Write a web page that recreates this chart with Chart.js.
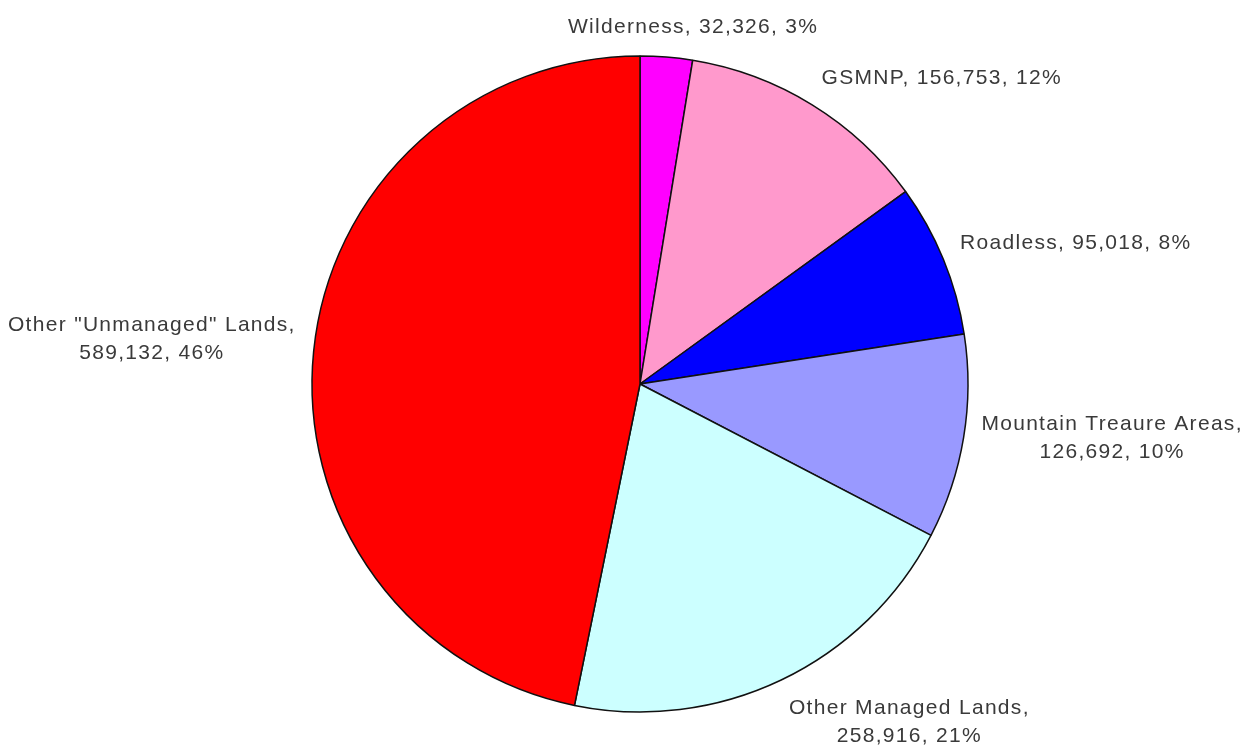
<!DOCTYPE html>
<html>
<head>
<meta charset="utf-8">
<script src="https://cdn.jsdelivr.net/npm/chart.js@4/dist/chart.umd.min.js"></script>
<style>
  html, body { margin: 0; padding: 0; background: #fff; }
  #landChart { display: block; }
</style>
</head>
<body>
<canvas id="landChart" width="1245" height="749"></canvas>
<script>
const landNames = ['Wilderness', 'GSMNP', 'Roadless', 'Mountain Treaure Areas', 'Other Managed Lands', 'Other "Unmanaged" Lands']
const acres = [32326, 156753, 95018, 126692, 258916, 589132]
const pctText = [3, 12, 8, 10, 21, 46]
const sliceColors = ['#ff00ff', '#ff99cc', '#0000ff', '#9999ff', '#ccffff', '#ff0000']

// labels sit just outside each slice, like excel's "outside end"
const outsideLabels = {
    id: 'outsideLabels',
    afterDatasetsDraw(chart) {
        const ctx = chart.ctx
        const meta = chart.getDatasetMeta(0)
        ctx.save()
        ctx.font = '21px "Liberation Sans", Arial, sans-serif'
        ctx.letterSpacing = '1.3px'
        ctx.fillStyle = '#3a3a3a'
        ctx.textAlign = 'center'
        ctx.textBaseline = 'middle'
        const lineH = 28

        meta.data.forEach((arc, i) => {
            const p = arc.getProps(['x', 'y', 'startAngle', 'endAngle', 'outerRadius'], true)
            const mid = (p.startAngle + p.endAngle) / 2
            const dx = Math.cos(mid)
            const dy = Math.sin(mid)
            const ax = p.x + (p.outerRadius + 18) * dx
            const ay = p.y + (p.outerRadius + 18) * dy

            const tail = acres[i].toLocaleString('en-US') + ', ' + pctText[i] + '%'
            const lines = landNames[i].length > 15
                ? [landNames[i] + ',', tail]
                : [landNames[i] + ', ' + tail]

            const w = Math.max(...lines.map(l => ctx.measureText(l).width))
            const h = lines.length * lineH

            // slide the block sideways so it clears the pie, then nudge up a bit on the sides
            const side = Math.max(-1, Math.min(1, dx * 2.5))
            const cx = ax + side * w / 2
            const cy = ay + dy * h / 2 - (1 - Math.abs(dy)) * 10 + 2

            lines.forEach((l, k) => {
                ctx.fillText(l, cx, cy - h / 2 + lineH / 2 + k * lineH)
            })
        })
        ctx.restore()
    }
}

const ctx = document.querySelector('#landChart').getContext('2d')

const chart = new Chart(ctx, {
    type: 'pie',
    data: {
        labels: landNames,
        datasets: [
            {
                data: acres,
                backgroundColor: sliceColors,
                borderColor: '#111',
                borderWidth: 1.5,
            }
        ]
    },
    options: {
        responsive: false,
        animation: false,
        radius: 328,
        layout: {
            padding: { left: 35, right: 0, top: 19, bottom: 0 }
        },
        plugins: {
            legend: { display: false },
            tooltip: { enabled: false }
        }
    },
    plugins: [outsideLabels]
})
</script>
</body>
</html>
